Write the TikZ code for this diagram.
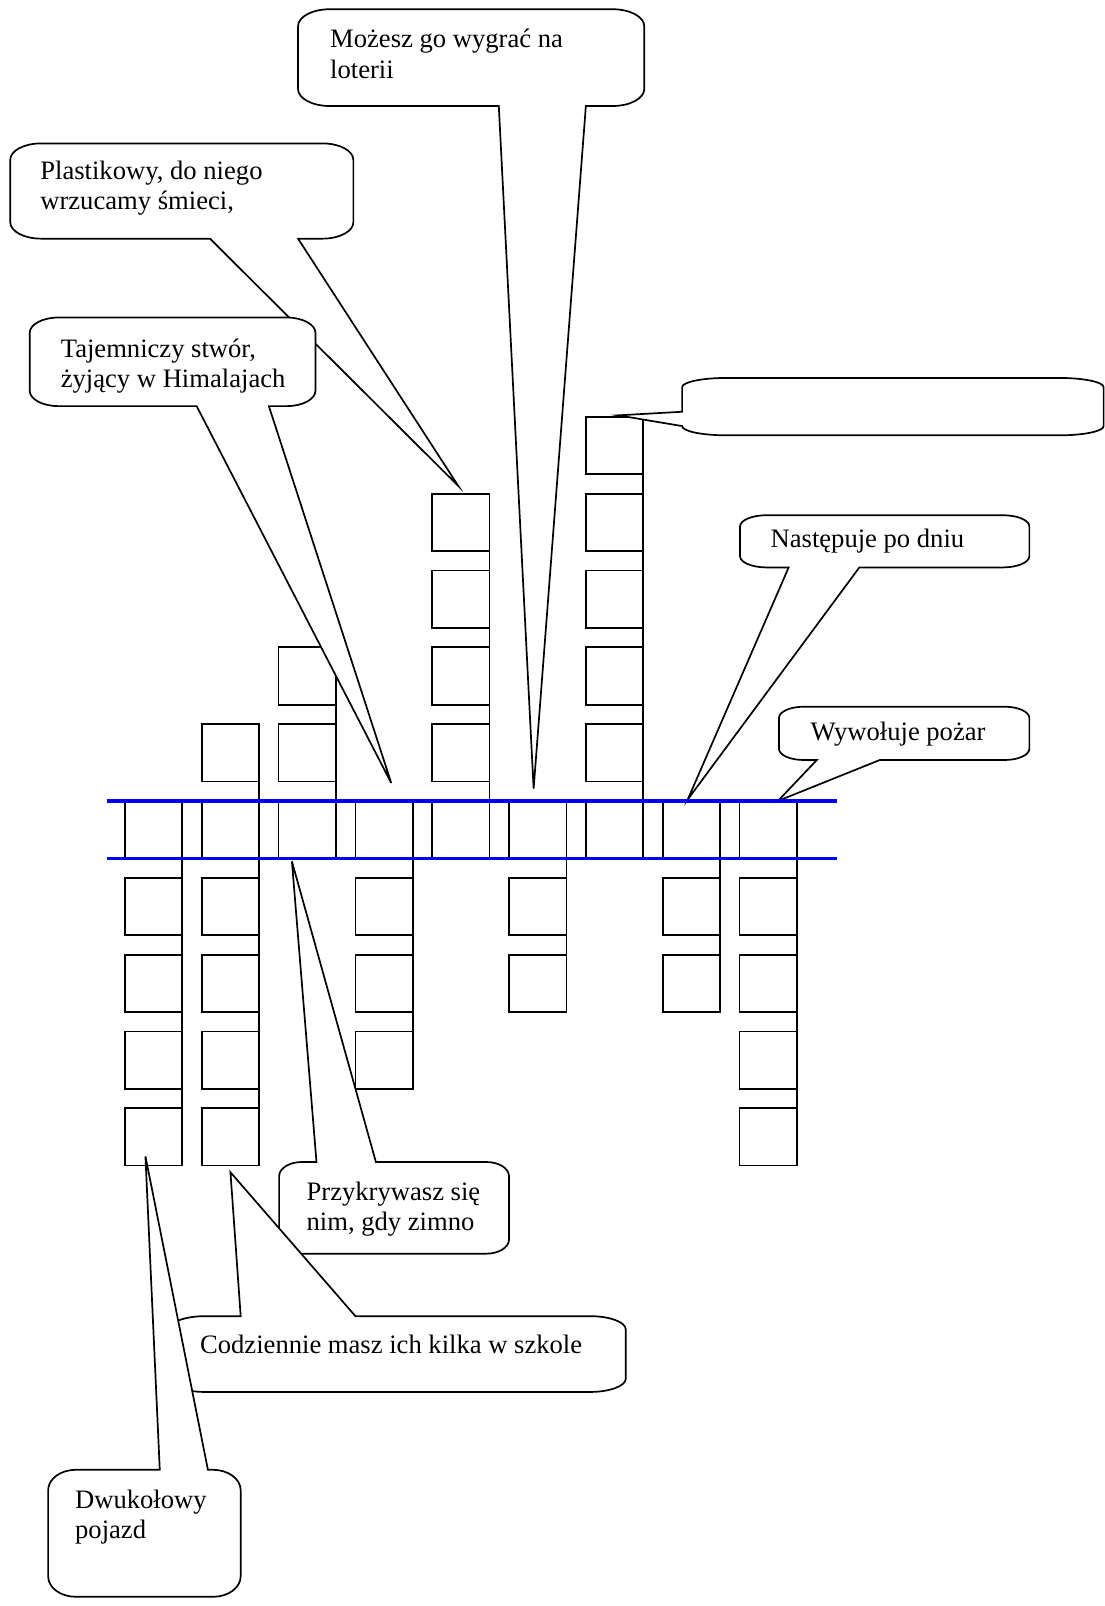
\documentclass[tikz,border=0pt]{standalone}
\usepackage{fontspec}
\setmainfont{Liberation Serif}
\tikzset{
  gridline/.style={line width=0.9pt, draw=black},
  blueline/.style={line width=1.7pt, draw=blue},
  bub/.style={fill=white, draw=black, line width=0.85pt, line join=miter},
  txt/.style={inner sep=0pt, align=left, font=\fontsize{13.3}{15.2}\selectfont, anchor=base west},
}
% #1 x1, #2 y1, #3 x2, #4 y2, #5 rx, #6 ry, #7 top-edge insert, #8 bottom-edge insert, #9 left-edge insert
\newcommand\mybubble[9]{%
  \filldraw[bub] ({#1+#5},#2) #7 -- ({#3-#5},#2)
    .. controls ({#3-0.448*#5},#2) and (#3,{#2+0.448*#6}) .. (#3,{#2+#6})
    -- (#3,{#4-#6})
    .. controls (#3,{#4-0.448*#6}) and ({#3-0.448*#5},#4) .. ({#3-#5},#4)
    #8 -- ({#1+#5},#4)
    .. controls ({#1+0.448*#5},#4) and (#1,{#4-0.448*#6}) .. (#1,{#4-#6})
    #9 -- (#1,{#2+#6})
    .. controls (#1,{#2+0.448*#6}) and ({#1+0.448*#5},#2) .. cycle;}
\begin{document}
\begin{tikzpicture}[x=0.512pt, y=-0.512pt]
\useasboundingbox (0,0) rectangle (1078,1568);
% ---- crossword grid ----
\foreach \c/\r in {1/1,1/2,1/3,1/4, 2/-1,2/1,2/2,2/3,2/4, 3/-2,3/-1, 4/1,4/2,4/3,
                   5/-4,5/-3,5/-2,5/-1, 6/1,6/2, 7/-5,7/-4,7/-3,7/-2,7/-1, 8/1,8/2, 9/1,9/2,9/3,9/4}
  \draw[gridline] ({122+75*(\c-1)},{782+75*\r}) rectangle ++(56,56);
\foreach \c/\u/\d in {1/0/4, 2/1/4, 3/2/0, 4/0/3, 5/4/0, 6/0/2, 7/5/0, 8/0/2, 9/0/4}
  \draw[gridline] ({178+75*(\c-1)},{782-75*\u}) -- ({178+75*(\c-1)},{838+75*\d});
\foreach \c in {1,...,9}
  \draw[gridline] ({122+75*(\c-1)},782) -- ++(0,56);
% ---- wedge tips ----
\coordinate (tipA) at (521,770);
\coordinate (tipB) at (447.5,474.5);
\coordinate (tipC) at (382,764.5);
\coordinate (tipD) at (603.5,405.5);
\coordinate (tipE) at (671.5,780.5);
\coordinate (tipF) at (759.5,782);
\coordinate (tipG) at (285,841);
\coordinate (tipH) at (225,1144.5);
\coordinate (tipI) at (142,1129);
% ---- callouts ----
\mybubble{291}{9}{629}{103.5}{31}{16.5}{}{-- (572,103.5) -- (tipA) -- (487,103.5)}{}
\node[txt] (tA) at (322,76.5) {Możesz go wygrać na\\loterii};
\mybubble{10}{140}{345}{233}{30}{16}{}{-- (291,233) -- (tipB) -- (205,233)}{}
\node[txt] (tB) at (39,205) {Plastikowy, do niego\\wrzucamy śmieci,};
\mybubble{29}{310}{308}{396.5}{28}{15}{}{-- (262.5,396.5) -- (tipC) -- (192,396.5)}{}
\node[txt] (tC) at (59,378.5) {Tajemniczy stwór,\\żyjący w Himalajach};
\mybubble{666}{369}{1077.5}{425}{43}{9}{}{}{-- (tipD) -- (666,402)}
\mybubble{722.5}{503}{1005}{554}{26}{11}{}{-- (839,554) -- (tipE) -- (770,554)}{}
\node[txt] (tE) at (752,535) {Następuje po dniu};
\mybubble{760.5}{690}{1005}{742}{24}{11}{}{-- (859,742) -- (tipF) -- (797.5,742)}{}
\node[txt] (tF) at (791,722.5) {Wywołuje pożar};
\mybubble{272.5}{1134.5}{497}{1224}{22}{14}{-- (309,1134.5) -- (tipG) -- (367,1134.5)}{}{}
\node[txt] (tG) at (299,1201.5) {Przykrywasz się\\nim, gdy zimno};
\mybubble{165}{1285}{611}{1359}{35}{13}{-- (235,1285) -- (tipH) -- (347,1285)}{}{}
\node[txt] (tH) at (195,1321) {Codziennie masz ich kilka w szkole};
\mybubble{47}{1435}{235}{1559}{27}{20}{-- (156,1435) -- (tipI) -- (203,1435)}{}{}
\node[txt] (tI) at (73,1502) {Dwukołowy\\pojazd};
% ---- blue guide lines ----
\draw[blueline] (104,782) -- (817,782);
\draw[blueline] (104,838) -- (817,838);
\end{tikzpicture}
\end{document}
